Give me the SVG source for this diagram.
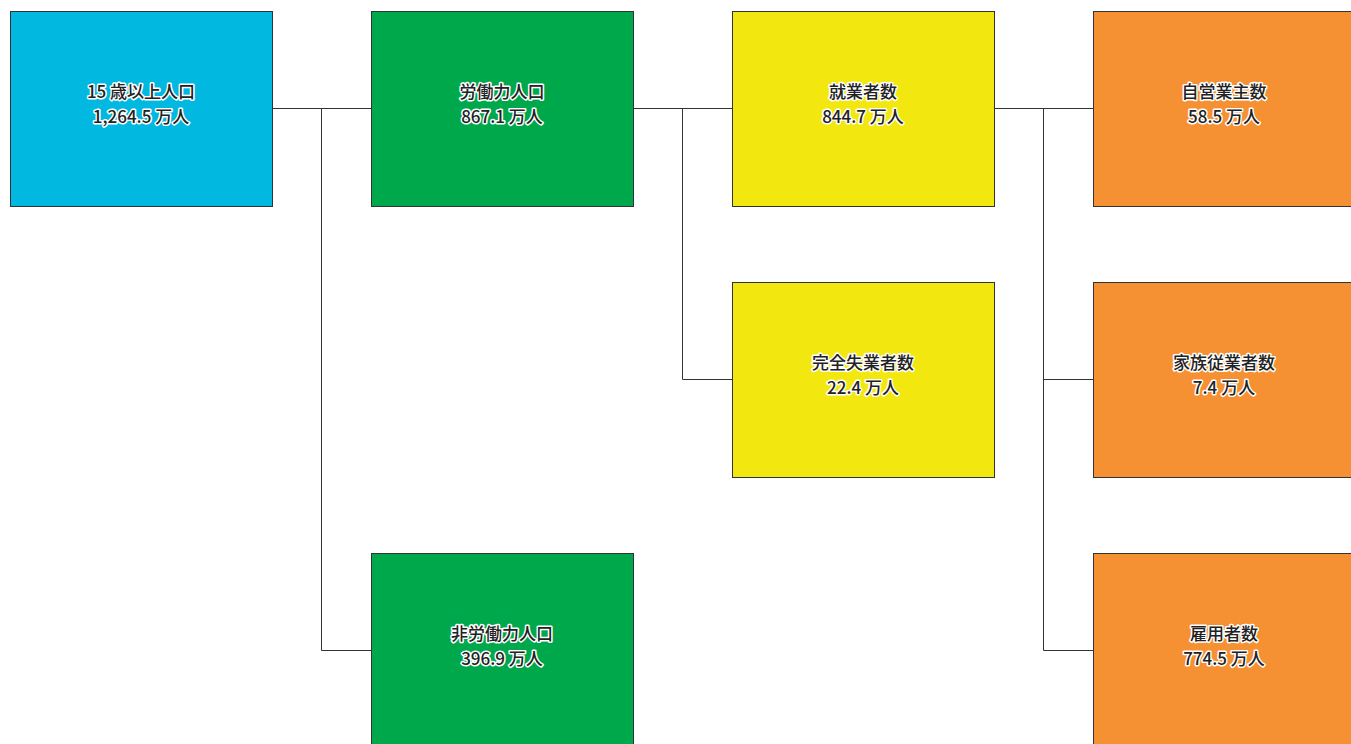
<svg xmlns="http://www.w3.org/2000/svg" width="1351" height="744" viewBox="0 0 1351 744">
<style>
.box{stroke:#333;stroke-width:1}
.b{fill:#00b8e0}.g{fill:#00a84c}.y{fill:#f2e80f}.o{fill:#f59033}
text{font-family:"Noto Sans CJK JP","Liberation Sans",sans-serif;font-size:17px;font-weight:500;fill:#222;text-anchor:middle;stroke:#fff;stroke-width:3;stroke-linejoin:round;paint-order:stroke}
.c{fill:none;stroke:#333;stroke-width:1}
</style>
<rect width="1351" height="744" fill="#fff"/>
<g id="connectors">
<path class="c" d="M272.5,108.5H371M321.5,108.5V650.5H371"/>
<path class="c" d="M633.5,108.5H732M682.5,108.5V379.5H732"/>
<path class="c" d="M994.5,108.5H1093M1043.5,108.5V650.5H1093M1043.5,379.5H1093"/>
</g>
<g id="n1"><rect class="box b" x="10.5" y="11.5" width="262" height="195"/><text x="141" y="98">15 歳以上人口</text><text x="141" y="123">1,264.5 万人</text></g>
<g id="n2"><rect class="box g" x="371.5" y="11.5" width="262" height="195"/><text x="502" y="98">労働力人口</text><text x="502" y="123">867.1 万人</text></g>
<g id="n3"><rect class="box g" x="371.5" y="553.5" width="262" height="195"/><text x="502" y="640">非労働力人口</text><text x="502" y="665">396.9 万人</text></g>
<g id="n4"><rect class="box y" x="732.5" y="11.5" width="262" height="195"/><text x="863" y="98">就業者数</text><text x="863" y="123">844.7 万人</text></g>
<g id="n5"><rect class="box y" x="732.5" y="282.5" width="262" height="195"/><text x="863" y="369">完全失業者数</text><text x="863" y="394">22.4 万人</text></g>
<g id="n6"><rect class="box o" x="1093.5" y="11.5" width="262" height="195"/><text x="1224" y="98">自営業主数</text><text x="1224" y="123">58.5 万人</text></g>
<g id="n7"><rect class="box o" x="1093.5" y="282.5" width="262" height="195"/><text x="1224" y="369">家族従業者数</text><text x="1224" y="394">7.4 万人</text></g>
<g id="n8"><rect class="box o" x="1093.5" y="553.5" width="262" height="195"/><text x="1224" y="640">雇用者数</text><text x="1224" y="665">774.5 万人</text></g>
</svg>
